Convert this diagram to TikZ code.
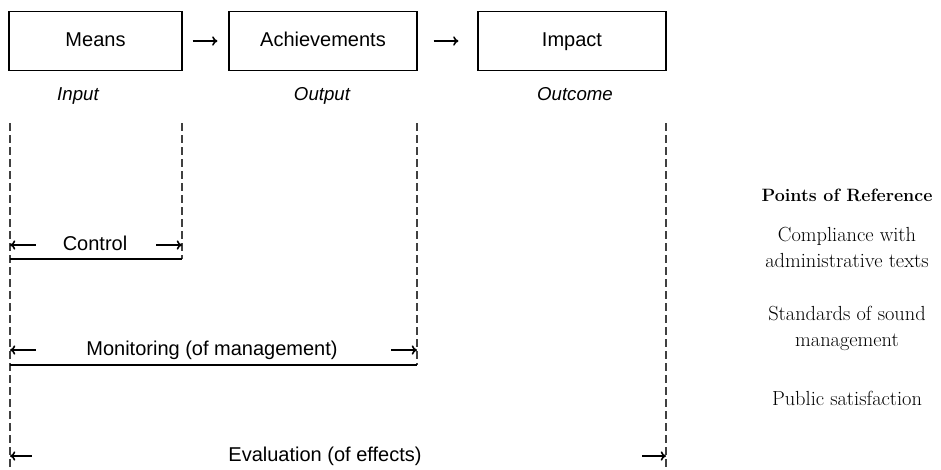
\documentclass[tikz,border=0pt]{standalone}
\usepackage{fontspec}
\newfontfamily\diagsans{Liberation Sans}
\usetikzlibrary{arrows.meta}

\tikzset{
  sanstext/.style={text height=11pt, text depth=3.5pt},
  stagebox/.style={draw, line width=0.8pt, minimum height=44.25pt, sanstext, font=\diagsans\fontsize{15}{18}\selectfont},
  stagelabel/.style={sanstext, font=\diagsans\itshape\fontsize{14}{17}\selectfont},
  guide/.style={draw=black!75, line width=0.8pt, dash pattern=on 6pt off 3pt},
  scopeline/.style={line width=0.8pt},
  flow/.style={-{To[length=4pt,width=7pt]}, line width=1.2pt},
  backflow/.style={{To[length=4pt,width=7pt]}-, line width=1.2pt},
  scopetext/.style={sanstext, font=\diagsans\fontsize{15}{18}\selectfont},
  refitem/.style={align=center, font=\fontsize{15.3}{19.5}\selectfont}
}

\begin{document}
\begin{tikzpicture}[x=0.75pt, y=-0.75pt]
    \useasboundingbox (0,0) rectangle (941,469);

    % Stage boxes
    \node[stagebox, minimum width=129.75pt] (means) at (95.5,41) {Means};
    \node[stagebox, minimum width=141pt] (achieve) at (323,41) {Achievements};
    \node[stagebox, minimum width=141pt] (impact) at (572,41) {Impact};

    % Labels under the boxes
    \node[stagelabel] (input) at (78,95) {Input};
    \node[stagelabel] (output) at (322,95) {Output};
    \node[stagelabel] (outcome) at (575,95) {Outcome};

    % Arrows between stages
    \draw[flow, shorten <=7.5pt, shorten >=8.25pt] (means) -- (achieve);
    \draw[flow, shorten <=12pt, shorten >=14.25pt] (achieve) -- (impact);

    % Ends of the dashed guides
    \coordinate (startTop) at (10,123);
    \coordinate (startBot) at (10,469);
    \coordinate (ctlTop) at (182,123);
    \coordinate (ctlBot) at (182,259);
    \coordinate (monTop) at (417,123);
    \coordinate (monBot) at (417,365);
    \coordinate (evaTop) at (666,123);
    \coordinate (evaBot) at (666,469);

    % Dashed guides
    \draw[guide] (startTop) -- (startBot);
    \draw[guide] (ctlTop) -- (ctlBot);
    \draw[guide] (monTop) -- (monBot);
    \draw[guide] (evaTop) -- (evaBot);

    % Solid base lines
    \draw[scopeline] (startTop |- ctlBot) -- (ctlBot);
    \draw[scopeline] (startTop |- monBot) -- (monBot);

    % Scope labels
    \node[scopetext] (control) at (95,245) {Control};
    \node[scopetext] (monitor) at (212,350) {Monitoring (of management)};
    \node[scopetext] (evaluate) at (325,456) {Evaluation (of effects)};

    % Scope arrows
    \draw[backflow] (startTop |- control) -- ++(26,0);
    \draw[backflow] (ctlTop |- control) -- ++(-26,0);
    \draw[backflow] (startTop |- monitor) -- ++(26,0);
    \draw[backflow] (monTop |- monitor) -- ++(-26,0);
    \draw[backflow] (startTop |- evaluate) -- ++(22,0);
    \draw[backflow] (evaTop |- evaluate) -- ++(-24,0);

    % Points of reference
    \node[refitem, font=\bfseries\fontsize{13.4}{16}\selectfont] (refhead) at (847,195) {Points of Reference};
    \node[refitem] (compliance) at (847,247) {Compliance with\\administrative texts};
    \node[refitem] (standards) at (847,328.5) {Standards of sound\\management};
    \node[refitem] (public) at (847,398) {Public satisfaction};
\end{tikzpicture}
\end{document}
